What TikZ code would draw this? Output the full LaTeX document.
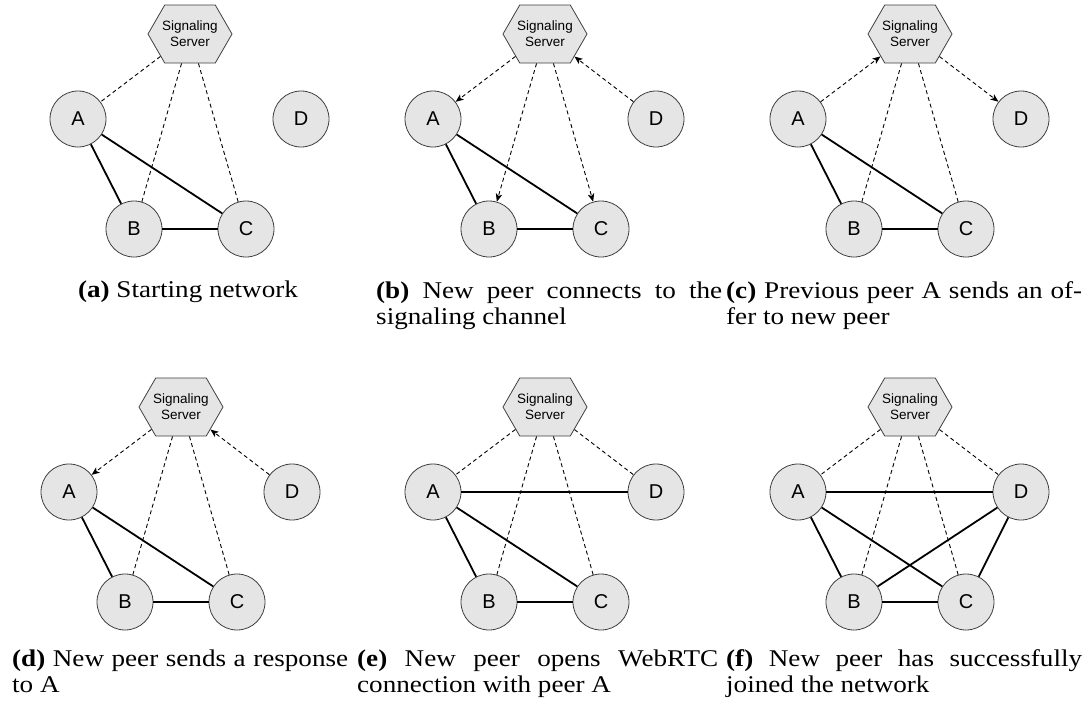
\documentclass[tikz,border=0pt]{standalone}
\usepackage{fontspec}
\setmainfont{Liberation Serif}[FakeStretch=1.13]
\setsansfont{Liberation Sans}
\usetikzlibrary{shapes.symbols,arrows.meta}
% keep the caption lines where they are broken by hand
\tolerance=10000
\hyphenpenalty=10000

\tikzset{
  peer/.style={circle, draw=black!75, line width=0.8pt, fill=black!10,
    minimum size=56pt, inner sep=0pt, font=\fontsize{20}{20}\selectfont\sffamily},
  server/.style={signal, signal to=east and west, signal pointer angle=120,
    draw=black!75, line width=0.8pt, fill=black!10, minimum height=58pt,
    inner xsep=-2.5pt, inner ysep=0pt, align=center,
    font=\fontsize{13.5}{15.7}\selectfont\sffamily},
  link/.style={line width=1.8pt},
  sig/.style={line width=0.9pt, dash pattern=on 4pt off 3pt},
  sigarrow/.style={sig, -{Stealth[length=8pt, width=6.5pt, inset=2pt]}},
  caption/.style={inner sep=0pt, font=\fontsize{24}{26.7}\selectfont},
  capbox/.style={caption, anchor=base west, text width=#1, align=justify},
}

% the signaling server and the four peers of one stage
\newcommand\placenodes[1]{%
  \node[server] (#1S) at (0,0) {Signaling\\Server};
  \node[peer] (#1A) at (-112,85) {A};
  \node[peer] (#1B) at (-56,195) {B};
  \node[peer] (#1C) at (56,195) {C};
  \node[peer] (#1D) at (111,85) {D};
}
% the existing mesh between A, B and C
\newcommand\meshABC[1]{%
  \draw[link] (#1A) -- (#1B);
  \draw[link] (#1A) -- (#1C);
  \draw[link] (#1B) -- (#1C);
}

\begin{document}
\begin{tikzpicture}[x=1pt, y=-1pt]
  \path[fill=white] (0,0) rectangle (1088,707);
  \useasboundingbox (0,0) rectangle (1088,707);

  % (a) starting network
  \begin{scope}[shift={(190,34)}]
    \placenodes{a}
  \end{scope}
  \draw[sig] (aS) -- (aA);
  \draw[sig] (aS) -- (aB);
  \draw[sig] (aS) -- (aC);
  \meshABC{a}

  % (b) new peer joins the signaling channel
  \begin{scope}[shift={(545,34)}]
    \placenodes{b}
  \end{scope}
  \draw[sigarrow] (bS) -- (bA);
  \draw[sigarrow] (bS) -- (bB);
  \draw[sigarrow] (bS) -- (bC);
  \draw[sigarrow] (bD) -- (bS);
  \meshABC{b}

  % (c) offer from A to D
  \begin{scope}[shift={(910,34)}]
    \placenodes{c}
  \end{scope}
  \draw[sigarrow] (cA) -- (cS);
  \draw[sig] (cS) -- (cB);
  \draw[sig] (cS) -- (cC);
  \draw[sigarrow] (cS) -- (cD);
  \meshABC{c}

  % (d) answer from D to A
  \begin{scope}[shift={(181,407)}]
    \placenodes{d}
  \end{scope}
  \draw[sigarrow] (dS) -- (dA);
  \draw[sig] (dS) -- (dB);
  \draw[sig] (dS) -- (dC);
  \draw[sigarrow] (dD) -- (dS);
  \meshABC{d}

  % (e) WebRTC link between A and D
  \begin{scope}[shift={(545,407)}]
    \placenodes{e}
  \end{scope}
  \draw[sig] (eS) -- (eA);
  \draw[sig] (eS) -- (eB);
  \draw[sig] (eS) -- (eC);
  \draw[sig] (eS) -- (eD);
  \meshABC{e}
  \draw[link] (eA) -- (eD);

  % (f) full mesh
  \begin{scope}[shift={(910,407)}]
    \placenodes{f}
  \end{scope}
  \draw[sig] (fS) -- (fA);
  \draw[sig] (fS) -- (fB);
  \draw[sig] (fS) -- (fC);
  \draw[sig] (fS) -- (fD);
  \meshABC{f}
  \draw[link] (fA) -- (fD);
  \draw[link] (fB) -- (fD);
  \draw[link] (fC) -- (fD);

  % captions
  \node[caption, anchor=base] (capa) at (188,297) {\textbf{(a)} Starting network};
  \node[capbox=346pt] (capb) at (376,298)
    {\textbf{(b)} New peer connects to the\linebreak signaling channel};
  \node[capbox=356pt] (capc) at (726,298)
    {\textbf{(c)} Previous peer A sends an of-\linebreak fer to new peer};
  \node[capbox=336pt] (capd) at (12,666)
    {\textbf{(d)} New peer sends a response\linebreak to A};
  \node[capbox=361pt] (cape) at (357,666)
    {\textbf{(e)} New peer opens WebRTC\linebreak connection with peer A};
  \node[capbox=356pt] (capf) at (726,666)
    {\textbf{(f)} New peer has successfully\linebreak joined the network};
\end{tikzpicture}
\end{document}
